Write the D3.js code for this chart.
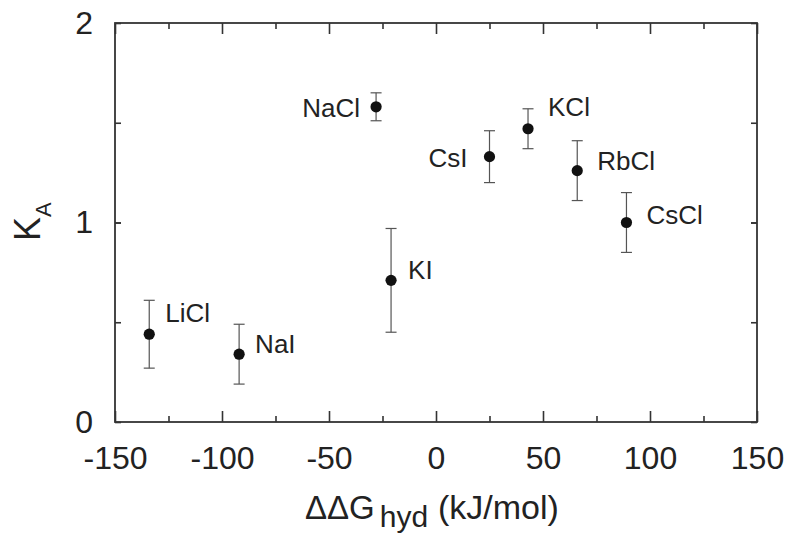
<!DOCTYPE html>
<html lang="en">
<head>
  <meta charset="UTF-8">
  <title>KA vs ddG hyd</title>
  <script src="https://cdn.jsdelivr.net/npm/d3@7/dist/d3.min.js"></script>
  <style>
    body { margin: 0; background: #fff; }
    text { font-family: "Liberation Sans", Arial, Helvetica, sans-serif; fill: #222; }
  </style>
</head>
<body>
  <svg id="chart" width="787" height="535"></svg>
  <script>
    // data
    const salts = ['LiCl', 'NaI', 'KI', 'NaCl', 'CsI', 'KCl', 'RbCl', 'CsCl'];
    const ddG = [-134, -92, -21, -28, 25, 43, 66, 89];
    const kA = [0.44, 0.34, 0.71, 1.58, 1.33, 1.47, 1.26, 1.00];
    const kAErr = [0.17, 0.15, 0.26, 0.07, 0.13, 0.10, 0.15, 0.15];
    const xTicks = [-150, -100, -50, 0, 50, 100, 150];
    const yTicks = [0, 1, 2];

    // where each label sits next to its point (px)
    const labelDx = [16, 16, 17, -16, -22, 20, 20, 20];
    const labelDy = [-12, -1, -1, 10, 10, -13, -1, 1];

    (() => {
      const svg = d3.select('#chart');
      const mLeft = 115, mTop = 23, mRight = 757, mBottom = 422;

      const x = d3.scaleLinear().domain([-150, 150]).range([mLeft, mRight]);
      const y = d3.scaleLinear().domain([0, 2]).range([mBottom, mTop]);

      const frameColor = '#333';
      const plain = d => String(d); // hyphen minus like the original

      // minor / major ticks, all pointing inward
      const xMinor = d3.range(-125, 150, 50);
      const yMinor = d3.range(0.5, 2, 0.5);

      svg.append('g').attr('transform', `translate(0,${mBottom})`)
        .call(d3.axisBottom(x).tickValues(xTicks).tickSize(-11).tickSizeOuter(0).tickPadding(24).tickFormat(plain));
      svg.append('g').attr('transform', `translate(0,${mBottom})`)
        .call(d3.axisBottom(x).tickValues(xMinor).tickSize(-6).tickFormat(''));
      svg.append('g').attr('transform', `translate(0,${mTop})`)
        .call(d3.axisTop(x).tickValues(xTicks).tickSize(-11).tickFormat(''));
      svg.append('g').attr('transform', `translate(0,${mTop})`)
        .call(d3.axisTop(x).tickValues(xMinor).tickSize(-6).tickFormat(''));

      svg.append('g').attr('transform', `translate(${mLeft},0)`)
        .call(d3.axisLeft(y).tickValues(yTicks).tickSize(-6).tickPadding(22).tickFormat(plain));
      svg.append('g').attr('transform', `translate(${mLeft},0)`)
        .call(d3.axisLeft(y).tickValues(yMinor).tickSize(-6).tickFormat(''));
      svg.append('g').attr('transform', `translate(${mRight},0)`)
        .call(d3.axisRight(y).tickValues(yTicks.concat(yMinor)).tickSize(-6).tickFormat(''));

      svg.selectAll('.domain').remove();
      svg.selectAll('.tick line').attr('stroke', frameColor).attr('stroke-width', 1.6);
      svg.selectAll('.tick text').attr('font-size', '32px').attr('fill', '#222')
        .attr('font-family', '"Liberation Sans", Arial, Helvetica, sans-serif');

      // frame
      svg.append('rect')
        .attr('x', mLeft).attr('y', mTop)
        .attr('width', mRight - mLeft).attr('height', mBottom - mTop)
        .attr('fill', 'none').attr('stroke', frameColor).attr('stroke-width', 1.8);

      // error bars
      const capW = 5.5;
      const pts = svg.append('g').selectAll('g').data(salts).enter().append('g');
      pts.append('line')
        .attr('x1', (d, i) => x(ddG[i])).attr('x2', (d, i) => x(ddG[i]))
        .attr('y1', (d, i) => y(kA[i] + kAErr[i])).attr('y2', (d, i) => y(kA[i] - kAErr[i]))
        .attr('stroke', '#555').attr('stroke-width', 1.2);
      [1, -1].forEach(s => {
        pts.append('line')
          .attr('x1', (d, i) => x(ddG[i]) - capW).attr('x2', (d, i) => x(ddG[i]) + capW)
          .attr('y1', (d, i) => y(kA[i] + s * kAErr[i])).attr('y2', (d, i) => y(kA[i] + s * kAErr[i]))
          .attr('stroke', '#555').attr('stroke-width', 1.2);
      });
      pts.append('circle')
        .attr('cx', (d, i) => x(ddG[i])).attr('cy', (d, i) => y(kA[i]))
        .attr('r', 5.6).attr('fill', '#111');

      pts.append('text')
        .attr('x', (d, i) => x(ddG[i]) + labelDx[i])
        .attr('y', (d, i) => y(kA[i]) + labelDy[i])
        .attr('text-anchor', (d, i) => labelDx[i] < 0 ? 'end' : 'start')
        .attr('font-size', '26px')
        .text(d => d);

      // axis titles
      const xt = svg.append('text')
        .attr('x', 305).attr('y', 519)
        .attr('font-size', '33px');
      xt.append('tspan').text('\u0394\u0394G');
      xt.append('tspan').attr('dx', 5).attr('dy', 8).attr('font-size', '30px').text('hyd');
      xt.append('tspan').attr('x', 438).attr('dy', -8).attr('font-size', '34px').text('(kJ/mol)');

      const yt = svg.append('text')
        .attr('transform', 'translate(40,241) rotate(-90)')
        .attr('font-size', '36px');
      yt.append('tspan').text('K');
      yt.append('tspan').attr('dy', 11).attr('font-size', '22px').text('A');
    })();
  </script>
</body>
</html>
